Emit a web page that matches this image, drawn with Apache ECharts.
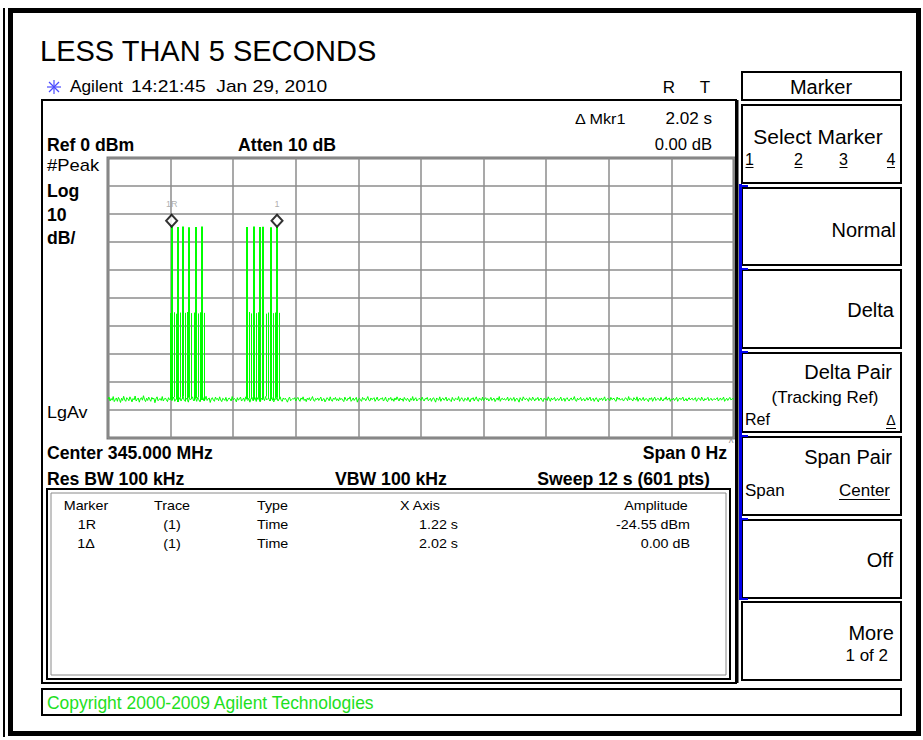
<!DOCTYPE html>
<html>
<head>
<meta charset="utf-8">
<title>LESS THAN 5 SECONDS</title>
<script src="https://cdn.jsdelivr.net/npm/echarts@6.0.0/dist/echarts.min.js"></script>
<style>
  html, body { margin: 0; padding: 0; background: #fff; }
  #main { width: 923px; height: 740px; }
</style>
</head>
<body>
<div id="main"></div>
<script>
// sweep settings (Sweep 12 s, 601 pts)
var sweepTime = 12;
var sweepPts = 601;

// noise floor, dBm, one value per sweep point
var noiseDbm = [
  -86.1,-85.4,-86.8,-85.9,-86.5,-85.2,-87.0,-86.3,-85.7,-86.9,-85.5,-86.2,-87.3,-85.8,-86.6,-85.1,-86.4,-86.9,-85.6,-86.0,
  -86.7,-85.3,-86.1,-87.1,-85.9,-86.4,-85.0,-86.8,-86.2,-85.7,-87.2,-86.0,-85.6,-86.5,-84.9,-86.3,-87.0,-85.8,-86.6,-85.4,
  -86.2,-86.9,-85.5,-86.1,-85.8,-87.4,-86.0,-85.3,-86.7,-86.2,-85.9,-86.6,-85.2,-86.8,-86.1,-85.7,-86.4,-87.0,-85.6,-86.3,
  -85.9,-86.6,-86.0,-85.4,-86.9,-86.2,-85.7,-87.1,-86.3,-85.5,-86.8,-86.0,-85.2,-86.5,-86.9,-85.8,-86.2,-87.2,-85.6,-86.4,
  -86.0,-85.3,-86.7,-86.1,-85.8,-86.9,-85.5,-86.3,-87.0,-85.9,-86.4,-85.6,-86.8,-86.2,-85.1,-86.6,-86.0,-85.7,-87.3,-86.1,
  -85.6,-86.5,-86.9,-85.4,-86.2,-85.9,-86.7,-85.3,-86.4,-87.0,-85.8,-86.1,-86.6,-85.5,-86.9,-86.3,-85.7,-86.0,-86.8,-85.2,
  -86.4,-85.9,-86.2,-87.1,-85.6,-86.5,-86.0,-85.4,-86.8,-86.3,-85.7,-86.9,-85.3,-86.1,-86.6,-85.8,-87.2,-86.0,-85.5,-86.7,
  -86.2,-85.6,-86.9,-86.1,-85.4,-86.5,-87.0,-85.8,-86.3,-85.9,-86.7,-85.2,-86.4,-86.0,-85.7,-86.8,-86.2,-85.5,-86.6,-87.1,
  -85.9,-86.3,-85.6,-86.8,-86.1,-85.3,-86.6,-86.9,-85.7,-86.2,-85.8,-86.5,-87.2,-86.0,-85.4,-86.7,-86.3,-85.9,-86.1,-85.6,
  -86.8,-86.0,-85.5,-86.4,-86.9,-85.7,-86.2,-85.3,-86.6,-86.1,-87.0,-85.8,-86.3,-85.6,-86.7,-86.0,-85.2,-86.5,-86.9,-85.9,
  -86.3,-85.7,-86.6,-86.0,-85.4,-86.8,-86.2,-85.9,-87.1,-86.4,-85.6,-86.1,-86.7,-85.3,-86.5,-86.9,-85.8,-86.2,-85.5,-86.6,
  -86.0,-86.8,-85.6,-86.3,-85.9,-86.5,-87.0,-85.4,-86.2,-86.7,-85.8,-86.1,-85.3,-86.9,-86.4,-85.7,-86.6,-86.0,-85.5,-87.2,
  -86.1,-85.8,-86.4,-86.9,-85.5,-86.2,-85.9,-86.7,-86.0,-85.2,-86.5,-86.8,-85.7,-86.3,-86.0,-85.6,-86.9,-86.2,-85.4,-86.6,
  -86.5,-85.9,-86.1,-85.6,-86.8,-86.3,-85.4,-86.7,-87.0,-85.8,-86.2,-85.5,-86.6,-86.0,-86.9,-85.7,-86.4,-85.3,-86.1,-86.8,
  -85.7,-86.4,-86.0,-86.9,-85.5,-86.2,-86.6,-85.8,-86.3,-87.1,-85.9,-86.5,-85.2,-86.7,-86.1,-85.6,-86.8,-86.3,-85.9,-86.0,
  -86.6,-85.4,-86.2,-86.8,-85.9,-86.1,-85.5,-86.7,-86.3,-85.8,-86.9,-86.0,-85.6,-86.4,-87.2,-85.7,-86.2,-86.5,-85.3,-86.9,
  -86.0,-85.7,-86.5,-86.2,-85.4,-86.8,-86.1,-85.9,-86.6,-87.0,-85.5,-86.3,-86.7,-85.8,-86.0,-86.4,-85.2,-86.9,-86.2,-85.6,
  -86.3,-86.9,-85.8,-86.1,-86.6,-85.5,-86.4,-87.1,-85.9,-86.2,-85.6,-86.8,-86.0,-85.3,-86.5,-86.9,-85.7,-86.1,-86.6,-85.4,
  -86.7,-86.0,-85.6,-86.4,-85.9,-86.8,-86.2,-85.5,-86.6,-86.1,-85.8,-87.0,-86.3,-85.7,-86.5,-85.2,-86.9,-86.0,-85.8,-86.4,
  -85.9,-86.5,-86.2,-85.4,-86.8,-86.0,-85.7,-86.6,-86.3,-85.5,-86.9,-86.1,-85.8,-86.4,-87.2,-85.6,-86.2,-86.7,-85.3,-86.0,
  -86.4,-85.8,-86.1,-86.9,-85.6,-86.3,-86.6,-85.4,-86.0,-86.8,-85.9,-86.2,-85.5,-86.7,-86.1,-85.7,-86.5,-87.0,-85.8,-86.3,
  -86.0,-86.6,-85.3,-86.2,-86.9,-85.7,-86.4,-86.0,-85.5,-86.8,-86.2,-85.9,-86.6,-86.1,-85.4,-86.7,-86.3,-85.8,-86.9,-86.0,
  -85.6,-86.3,-86.8,-86.0,-85.7,-86.5,-86.1,-85.2,-86.6,-86.9,-85.8,-86.4,-86.0,-85.5,-86.7,-86.2,-85.9,-86.8,-86.3,-85.6,
  -86.5,-86.0,-85.4,-86.7,-86.2,-85.8,-86.9,-86.1,-85.6,-86.4,-87.1,-85.9,-86.3,-85.7,-86.6,-86.0,-85.3,-86.8,-86.2,-85.9,
  -86.1,-86.7,-85.5,-86.3,-86.0,-85.8,-86.6,-86.9,-85.4,-86.2,-85.7,-86.5,-86.1,-85.9,-86.8,-86.3,-85.6,-86.0,-86.7,-85.2,
  -86.4,-85.9,-86.2,-86.8,-85.6,-86.1,-86.5,-85.3,-86.9,-86.0,-85.8,-86.6,-86.3,-85.5,-86.7,-86.1,-85.9,-86.4,-87.0,-85.7,
  -86.2,-85.6,-86.9,-86.0,-85.4,-86.6,-86.3,-85.8,-86.1,-86.7,-85.5,-86.4,-86.8,-85.9,-86.2,-85.3,-86.5,-86.0,-85.7,-86.9,
  -86.0,-86.4,-85.8,-86.6,-86.1,-85.5,-86.9,-86.2,-85.7,-86.3,-86.0,-85.4,-86.7,-86.5,-85.9,-86.8,-86.1,-85.6,-86.4,-86.0,
  -85.8,-86.5,-86.1,-85.6,-86.9,-86.3,-85.7,-86.0,-86.6,-85.4,-86.2,-86.8,-85.9,-86.4,-86.0,-85.5,-86.7,-86.2,-85.8,-86.6,
  -86.3,-85.9,-86.4,-86.0,-85.6,-86.8,-86.2,-85.7,-86.5,-86.1,-85.4,-86.9,-86.3,-85.8,-86.6,-86.0,-85.5,-86.4,-86.1,-85.9,
  -86.2
];

// pulses above the floor, dBm, null where the trace stays on the floor
// first burst, sweep points 59..92
var burst1Start = 59;
var burst1Dbm = [
  -55.4, null, -24.55, null, -55.1, null, -55.6, null, -24.6, null,
  -55.2, null, -55.5, -24.5, null, -55.3, null, -55.0, null, -24.7,
  null, -55.4, null, -55.2, null, -24.6, null, -55.5, null, -55.1,
  null, -24.5, null, -55.3
];
// second burst, sweep points 132..164
var burst2Start = 132;
var burst2Dbm = [
  -55.3, -24.6, null, -55.0, null, -55.5, null, -55.2, -24.5, null,
  -55.4, null, -55.1, null, -24.6, null, -55.3, -24.55, null, -55.6,
  null, -55.2, null, -55.0, -24.7, null, -55.4, null, -55.2, null,
  -24.55, null, -55.3
];

var markerNames = ['1R', '1'];
var markerTimes = [1.22, 3.24];
var markerAmps = [-24.55, -24.55];

var step = sweepTime / (sweepPts - 1);
var noiseData = noiseDbm.map(function (v, i) { return [i * step, v]; });
var pulseData = [];
[[burst1Start, burst1Dbm], [burst2Start, burst2Dbm]].forEach(function (b) {
  b[1].forEach(function (v, k) {
    if (v === null) return;
    var i = b[0] + k;
    pulseData.push([i * step, v, noiseDbm[i]]);
  });
});
var markerData = markerTimes.map(function (t, k) {
  return { value: [t, markerAmps[k]], name: markerNames[k] };
});

var F = '"Liberation Sans", Arial, sans-serif';

// text element; sx squeezes/stretches it sideways around its anchor
function txt(x, y, s, font, align, color, sx) {
  return {
    type: 'text', silent: true,
    x: x, y: y, scaleX: sx || 1,
    style: {
      x: 0, y: 0, text: s, font: font, fill: color || '#000',
      align: align || 'left', verticalAlign: 'middle',
      textAlign: align || 'left', textVerticalAlign: 'middle'
    }
  };
}
// narrow bold labels of the analyzer screen
function bold(x, y, s, align) {
  return txt(x, y, s, 'bold 19px ' + F, align, '#000', 0.93);
}
function box(x, y, w, h, lw, color) {
  return {
    type: 'rect', silent: true,
    shape: { x: x, y: y, width: w, height: h },
    style: { fill: 'none', stroke: color || '#000', lineWidth: lw || 2 }
  };
}
function ln(x1, y1, x2, y2, lw, color) {
  return {
    type: 'line', silent: true,
    shape: { x1: x1, y1: y1, x2: x2, y2: y2 },
    style: { stroke: color || '#000', lineWidth: lw || 1 }
  };
}

var g = [];
// outer frame
g.push(box(10.5, 10.5, 908, 723, 5));
g.push(ln(4, 8, 4, 737, 2));
// title and header line
g.push(txt(40, 51, 'LESS THAN 5 SECONDS', '29px ' + F));
[[0, -7], [0, 7], [-7, 0], [7, 0], [-5, -5], [5, 5], [-5, 5], [5, -5]].forEach(function (d) {
  g.push(ln(54, 87, 54 + d[0], 87 + d[1], 1.2, '#4a4aff'));
});
g.push(txt(70, 87, 'Agilent', '16px ' + F, 'left', '#000', 1.08));
g.push(txt(131, 87, '14:21:45  Jan 29, 2010', '16px ' + F, 'left', '#000', 1.2));
g.push(txt(669, 87, 'R', '17px ' + F, 'center'));
g.push(txt(705, 87, 'T', '17px ' + F, 'center'));

// main display box
g.push(box(42, 100, 694, 583, 2));
g.push(ln(737, 100, 737, 683, 3));
g.push(txt(575, 119, '\u0394 Mkr1', '15px ' + F, 'left', '#000', 1.08));
g.push(txt(712, 119, '2.02 s', '16px ' + F, 'right', '#000', 1.07));
g.push(bold(47, 144, 'Ref 0 dBm'));
g.push(bold(238, 144, 'Atten 10 dB'));
g.push(txt(712, 144, '0.00 dB', '16px ' + F, 'right', '#000', 1.04));
g.push(txt(47, 165, '#Peak', '16px ' + F, 'left', '#000', 1.15));
g.push(bold(47, 190, 'Log'));
g.push(bold(47, 214, '10'));
g.push(bold(47, 237, 'dB/'));
g.push(txt(47, 413, 'LgAv', '16px ' + F, 'left', '#000', 1.12));
g.push(txt(731, 443, '^', '10px ' + F, 'center', '#888'));
g.push(bold(47, 452, 'Center 345.000 MHz'));
g.push(bold(727, 452, 'Span 0 Hz', 'right'));
g.push(bold(47, 478, 'Res BW 100 kHz'));
g.push(bold(335, 478, 'VBW 100 kHz'));
g.push(bold(710, 478, 'Sweep 12 s (601 pts)', 'right'));

// marker table
g.push(box(47, 489, 683, 190, 2));
g.push(box(51, 493, 675, 182, 1, '#8a8a8a'));
var TF = '13.5px ' + F;
function cell(x, y, s, align) { return txt(x, y, s, TF, align, '#000', 1.06); }
g.push(cell(86, 505, 'Marker', 'center'));
g.push(cell(172, 505, 'Trace', 'center'));
g.push(cell(257, 505, 'Type'));
g.push(cell(420, 505, 'X Axis', 'center'));
g.push(cell(656, 505, 'Amplitude', 'center'));
g.push(cell(87, 524, '1R', 'center'));
g.push(cell(172, 524, '(1)', 'center'));
g.push(cell(257, 524, 'Time'));
g.push(cell(458, 524, '1.22 s', 'right'));
g.push(cell(690, 524, '-24.55 dBm', 'right'));
g.push(cell(86, 543, '1\u0394', 'center'));
g.push(cell(172, 543, '(1)', 'center'));
g.push(cell(257, 543, 'Time'));
g.push(cell(458, 543, '2.02 s', 'right'));
g.push(cell(690, 543, '0.00 dB', 'right'));

// copyright line
g.push(box(42, 689, 859, 26, 2));
g.push(txt(47, 703, 'Copyright 2000-2009 Agilent Technologies', '18px ' + F, 'left', '#1ee01e', 0.97));

// softkey column
var keyTops = [72, 105, 188, 270, 353, 437, 520, 602];
var keyBots = [100, 183, 265, 348, 432, 515, 598, 680];
keyTops.forEach(function (t, k) { g.push(box(742, t, 159, keyBots[k] - t, 2)); });
g.push(ln(740.5, 184, 740.5, 599, 3, '#0000ee'));
[186, 269, 352, 436, 519, 599].forEach(function (y) { g.push(ln(739, y, 748, y, 2, '#0000ee')); });
var KF = '20px ' + F, KS = '17px ' + F;
g.push(txt(821, 87, 'Marker', KF, 'center'));
g.push(txt(818, 136, 'Select Marker', '21px ' + F, 'center'));
[['1', 749.5], ['2', 798.5], ['3', 843.5], ['4', 891]].forEach(function (d) {
  g.push(txt(d[1], 159, d[0], '16px ' + F, 'center'));
  g.push(ln(d[1] - 4, 167.5, d[1] + 4, 167.5, 1));
});
g.push(txt(896, 230, 'Normal', KF, 'right'));
g.push(txt(894, 310, 'Delta', KF, 'right'));
g.push(txt(892, 372, 'Delta Pair', KF, 'right'));
g.push(txt(825, 397, '(Tracking Ref)', KS, 'center'));
g.push(txt(745, 419, 'Ref', '16px ' + F));
g.push(txt(891, 420, '\u0394', '14px ' + F, 'center'));
g.push(ln(886, 428.5, 896, 428.5, 1));
g.push(txt(892, 457, 'Span Pair', KF, 'right'));
g.push(txt(745, 490, 'Span', KS));
g.push(txt(890, 490, 'Center', KS, 'right'));
g.push(ln(839, 499.5, 890, 499.5, 1));
g.push(txt(893, 560, 'Off', KF, 'right'));
g.push(txt(894, 633, 'More', KF, 'right'));
g.push(txt(888, 655, '1 of 2', KS, 'right'));

var chart = echarts.init(document.getElementById('main'), null, { renderer: 'svg' });
var option = {
  backgroundColor: '#fff',
  animation: false,
  grid: {
    left: 108, top: 158, width: 626, height: 280,
    show: true, borderColor: '#7a7a7a', borderWidth: 3
  },
  xAxis: {
    type: 'value', min: 0, max: sweepTime, interval: 1.2,
    axisLine: { show: false }, axisTick: { show: false }, axisLabel: { show: false },
    splitLine: { show: true, lineStyle: { color: '#8c8c8c', width: 1.5 } }
  },
  yAxis: {
    type: 'value', min: -100, max: 0, interval: 10,
    axisLine: { show: false }, axisTick: { show: false }, axisLabel: { show: false },
    splitLine: { show: true, lineStyle: { color: '#8c8c8c', width: 1.5 } }
  },
  series: [
    {
      // trace floor
      type: 'line', data: noiseData, symbol: 'none', silent: true,
      lineStyle: { color: '#00ff00', width: 1 }
    },
    {
      // pulses drawn as one-column spikes rising from the floor
      type: 'custom', data: pulseData, silent: true, z: 3,
      renderItem: function (params, api) {
        var top = api.coord([api.value(0), api.value(1)]);
        var bot = api.coord([api.value(0), api.value(2)]);
        var tall = api.value(1) > -40;
        var x = tall ? Math.round(top[0]) : Math.round(top[0]) + 0.5;
        return {
          type: 'line',
          shape: { x1: x, y1: bot[1], x2: x, y2: top[1] },
          style: { stroke: '#00ff00', lineWidth: tall ? 2 : 1 }
        };
      }
    },
    {
      type: 'scatter', data: markerData, symbol: 'diamond',
      symbolSize: [11, 12], symbolOffset: [0, -6], silent: true, z: 5,
      itemStyle: { color: '#fff', borderColor: '#000', borderWidth: 2 },
      label: {
        show: true, position: 'top', distance: 5, formatter: '{b}',
        fontSize: 9, color: '#9a9a9a', fontFamily: 'Liberation Sans'
      }
    }
  ],
  graphic: g
};
option && chart.setOption(option);
</script>
</body>
</html>
